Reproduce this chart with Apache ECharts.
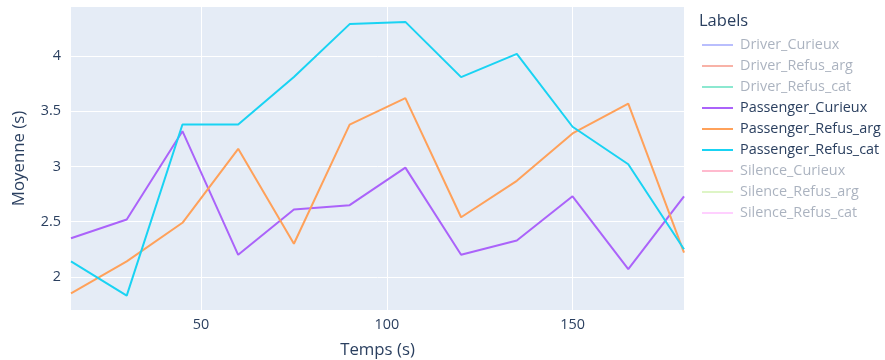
<!DOCTYPE html>
<html>
<head>
<meta charset="utf-8">
<script src="https://cdn.jsdelivr.net/npm/echarts@6/dist/echarts.min.js"></script>
<style>
  html, body { margin: 0; padding: 0; background: #fff; }
  #main { width: 885px; height: 360px; }
</style>
</head>
<body>
<div id="main"></div>
<script>
// temps (s)
const temps = [15, 30, 45, 60, 75, 90, 105, 120, 135, 150, 165, 180];
// moyennes
const passengerCurieux = [2.35, 2.52, 3.32, 2.20, 2.61, 2.65, 2.99, 2.20, 2.33, 2.73, 2.07, 2.73];
const passengerRefusArg = [1.85, 2.14, 2.49, 3.16, 2.30, 3.38, 3.62, 2.54, 2.87, 3.30, 3.57, 2.22];
const passengerRefusCat = [2.14, 1.83, 3.38, 3.38, 3.81, 4.29, 4.31, 3.81, 4.02, 3.36, 3.02, 2.25];
const yTicks = [2, 2.5, 3, 3.5, 4];
const xTicks = [50, 100, 150];

const labels = ['Driver_Curieux', 'Driver_Refus_arg', 'Driver_Refus_cat',
  'Passenger_Curieux', 'Passenger_Refus_arg', 'Passenger_Refus_cat',
  'Silence_Curieux', 'Silence_Refus_arg', 'Silence_Refus_cat'];
const colors = ['#636efa', '#EF553B', '#00cc96', '#ab63fa', '#FFA15A', '#19d3f3', '#FF6692', '#B6E880', '#FF97FF'];
// series visibles (les autres sont masquées dans la légende)
const shown = {
  Passenger_Curieux: passengerCurieux,
  Passenger_Refus_arg: passengerRefusArg,
  Passenger_Refus_cat: passengerRefusCat
};

const font = '"Open Sans", verdana, arial, sans-serif';
const textColor = '#2a3f5f';

let myChart = echarts.init(document.getElementById('main'));

const series = labels.map((name, i) => {
  const vals = shown[name] || [];
  return {
    name: name,
    type: 'line',
    showSymbol: false,
    symbol: 'none',
    color: colors[i],
    lineStyle: { width: 2, color: colors[i] },
    data: vals.map((v, j) => [temps[j], v])
  };
});

myChart.setOption({
  animation: false,
  textStyle: { fontFamily: font },
  title: {
    text: 'Labels',
    left: 694,
    top: 8,
    textStyle: { fontSize: 16.5, fontWeight: 'normal', color: textColor, fontFamily: font }
  },
  legend: {
    orient: 'vertical',
    left: 697,
    top: 32,
    icon: 'rect',
    itemWidth: 31,
    itemHeight: 2,
    itemGap: 5,
    textStyle: { fontSize: 14.4, color: textColor, fontFamily: font, lineHeight: 16, padding: [0, 0, 0, 2] },
    data: labels.map((name, i) => {
      const visible = !!shown[name];
      return {
        name: name,
        itemStyle: { color: colors[i], opacity: visible ? 1 : 0.45 },
        textStyle: { color: visible ? textColor : 'rgba(42,63,95,0.4)' }
      };
    }),
    selectedMode: false
  },
  grid: {
    left: 71,
    right: 201,
    top: 7,
    bottom: 50,
    show: true,
    backgroundColor: '#E5ECF6',
    borderWidth: 0,
    containLabel: false,
    outerBoundsMode: 'none'
  },
  xAxis: {
    type: 'value',
    min: 15,
    max: 180,
    name: 'Temps (s)',
    nameLocation: 'middle',
    nameGap: 32,
    nameTextStyle: { fontSize: 16.8, color: textColor, fontFamily: font },
    axisLine: { show: false },
    axisTick: { show: false, customValues: xTicks },
    axisLabel: { customValues: xTicks, fontSize: 14.4, color: textColor, margin: 8 },
    splitLine: { show: true, lineStyle: { color: '#fff', width: 1 } }
  },
  yAxis: {
    type: 'value',
    min: 1.70,
    max: 4.445,
    name: 'Moyenne (s)',
    nameLocation: 'middle',
    nameGap: 43,
    nameTextStyle: { fontSize: 16.8, color: textColor, fontFamily: font },
    axisLine: { show: false },
    axisTick: { show: false, customValues: yTicks },
    axisLabel: { customValues: yTicks, fontSize: 14.4, color: textColor, margin: 10 },
    splitLine: { show: true, lineStyle: { color: '#fff', width: 1 } }
  },
  series: series
});
</script>
</body>
</html>
